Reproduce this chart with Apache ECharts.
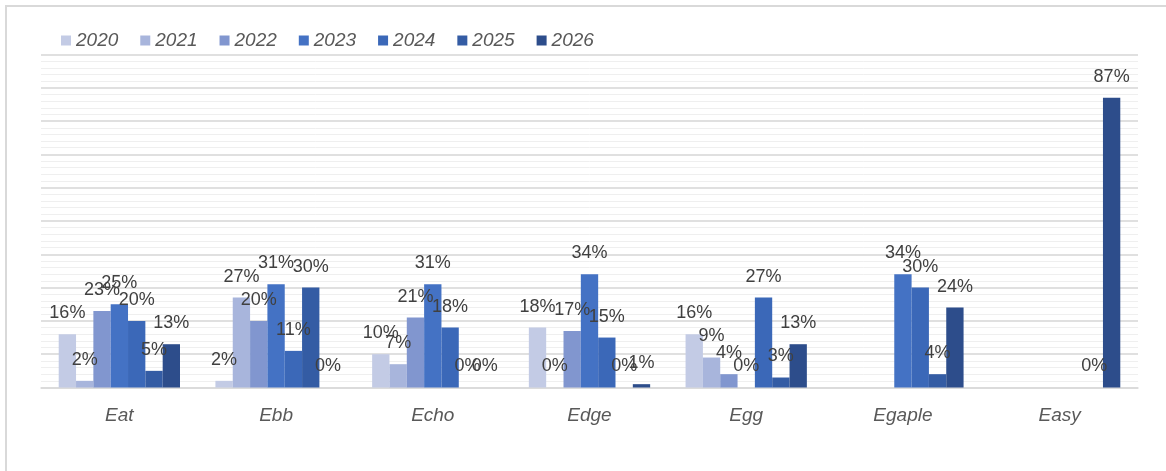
<!DOCTYPE html>
<html>
<head>
<meta charset="utf-8">
<script src="https://cdn.jsdelivr.net/npm/echarts@6/dist/echarts.min.js"></script>
<style>
  html, body { margin: 0; padding: 0; background: #ffffff; }
  #chart { width: 1166px; height: 471px; }
</style>
</head>
<body>
<div id="chart"></div>
<script>
// Categories along the x axis
const categories = ['Eat', 'Ebb', 'Echo', 'Edge', 'Egg', 'Egaple', 'Easy'];

// Yearly series (percent values; null = no bar)
const years = ['2020', '2021', '2022', '2023', '2024', '2025', '2026'];
const v2020 = [16, 2, 10, 18, 16, null, null];
const v2021 = [2, 27, 7, 0, 9, null, null];
const v2022 = [23, 20, 21, 17, 4, null, null];
const v2023 = [25, 31, 31, 34, 0, 34, null];
const v2024 = [20, 11, 18, 15, 27, 30, null];
const v2025 = [5, 30, 0, 0, 3, 4, 0];
const v2026 = [13, 0, 0, 1, 13, 24, 87];
const seriesValues = [v2020, v2021, v2022, v2023, v2024, v2025, v2026];

const palette = ['#c3cbe5', '#a8b5dc', '#8196cf', '#4472c4', '#3b68b8', '#345ca4', '#2d4d8b'];

const chart = echarts.init(document.getElementById('chart'), null, { renderer: 'canvas' });

const series = years.map((y, i) => ({
  name: y,
  type: 'bar',
  data: seriesValues[i],
  barGap: '0%',
  barCategoryGap: '22.6%',
  itemStyle: { color: palette[i] },
  label: {
    show: true,
    position: 'top',
    distance: 12,
    formatter: p => (p.value == null ? '' : p.value + '%'),
    color: '#404040',
    fontSize: 18,
    fontFamily: 'Liberation Sans'
  },
  emphasis: { disabled: true }
}));

chart.setOption({
  animation: false,
  backgroundColor: '#ffffff',
  graphic: [{
    type: 'rect',
    shape: { x: 6, y: 6, width: 1200, height: 520 },
    style: { fill: 'none', stroke: '#d9d9d9', lineWidth: 2 },
    silent: true
  }],
  legend: {
    left: 56,
    top: 26,
    itemWidth: 10,
    itemHeight: 10,
    itemGap: 22,
    icon: 'rect',
    textStyle: {
      color: '#595959',
      fontSize: 19,
      fontStyle: 'italic',
      fontFamily: 'Liberation Sans'
    },
    data: years
  },
  grid: { left: 41, right: 28, top: 54.5, bottom: 83.5, containLabel: false },
  xAxis: {
    type: 'category',
    data: categories,
    axisLine: { lineStyle: { color: '#d9d9d9', width: 1.5 } },
    axisTick: { show: false },
    axisLabel: {
      color: '#595959',
      fontSize: 19,
      fontStyle: 'italic',
      fontFamily: 'Liberation Sans',
      margin: 19
    }
  },
  yAxis: {
    type: 'value',
    min: 0,
    max: 100,
    interval: 10,
    axisLabel: { show: false },
    axisLine: { show: false },
    axisTick: { show: false },
    splitLine: { lineStyle: { color: '#d6d6d6', width: 1.5 } },
    minorTick: { show: false, splitNumber: 5 },
    minorSplitLine: { show: true, lineStyle: { color: '#efefef', width: 1 } }
  },
  series: series
});
</script>
</body>
</html>
